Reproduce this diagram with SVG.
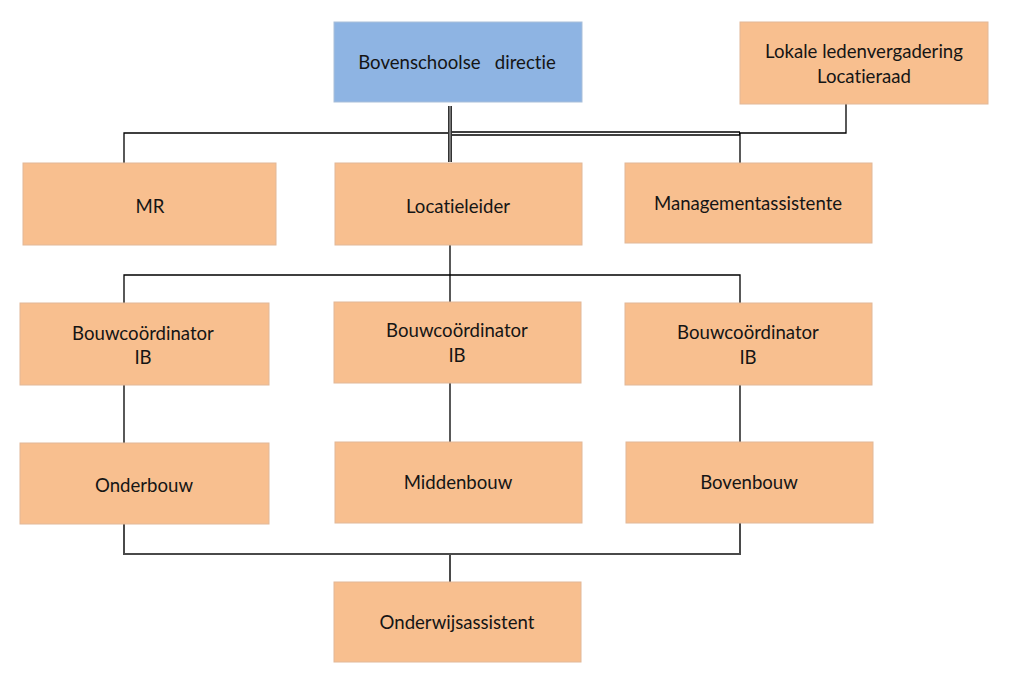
<svg xmlns="http://www.w3.org/2000/svg" width="1023" height="696" viewBox="0 0 1023 696">
<style>
.box{fill:#F8BF8F;stroke:#E2B898;stroke-width:1}
.blue{fill:#8EB4E3;stroke:#A9BFD9;stroke-width:1}
.t{font-family:Lato,"Open Sans","Liberation Sans",sans-serif;font-size:18.6px;fill:#151515;text-anchor:middle;dominant-baseline:central;white-space:pre;font-variant-ligatures:none}
.c{fill:none;stroke:#000;stroke-width:1.3}
.c2{fill:none;stroke:#4a4a4a;stroke-width:2}
</style>
<rect width="1023" height="696" fill="#fff"/>
<g id="connectors">
<path class="c" d="M124,163 V133 H846 V104"/>
<path class="c" d="M740,133 V163"/>
<path fill="none" stroke="#000" stroke-width="4.5" d="M450,133.5 H740"/>
<path fill="none" stroke="#fff" stroke-width="1.6" d="M450,133.5 H739"/>
<path fill="none" stroke="#333" stroke-width="4" d="M450,106 V162"/>
<path fill="none" stroke="#888" stroke-width="1.6" d="M450,106 V162"/>
<path class="c" d="M450,245 V275 M124,303 V275 H740 V303 M450,275 V302"/>
<path class="c" d="M124,385 V443 M450,383 V442 M740,385 V442"/>
<path class="c2" d="M124,524 V554 H740 V523 M450,554 V582"/>
</g>
<g id="bovenschoolse"><rect class="blue" x="334" y="22" width="248" height="80"/><text class="t" x="457" y="62" xml:space="preserve">Bovenschoolse   directie</text></g>
<g id="lokale"><rect class="box" x="740" y="22" width="248" height="82"/><text class="t" x="864" y="51">Lokale ledenvergadering</text><text class="t" x="864" y="76">Locatieraad</text></g>
<g id="mr"><rect class="box" x="23" y="163" width="253" height="82"/><text class="t" x="150" y="206">MR</text></g>
<g id="locatieleider"><rect class="box" x="335" y="163" width="247" height="82"/><text class="t" x="458" y="206">Locatieleider</text></g>
<g id="management"><rect class="box" x="625" y="163" width="247" height="80"/><text class="t" x="748" y="203">Managementassistente</text></g>
<g id="bouw1"><rect class="box" x="20" y="303" width="249" height="82"/><text class="t" x="143" y="333">Bouwcoördinator</text><text class="t" x="143" y="357">IB</text></g>
<g id="bouw2"><rect class="box" x="334" y="302" width="247" height="81"/><text class="t" x="457" y="330">Bouwcoördinator</text><text class="t" x="457" y="355">IB</text></g>
<g id="bouw3"><rect class="box" x="625" y="303" width="247" height="82"/><text class="t" x="748" y="332">Bouwcoördinator</text><text class="t" x="748" y="357">IB</text></g>
<g id="onderbouw"><rect class="box" x="20" y="443" width="249" height="81"/><text class="t" x="144" y="485">Onderbouw</text></g>
<g id="middenbouw"><rect class="box" x="335" y="442" width="247" height="81"/><text class="t" x="458" y="482">Middenbouw</text></g>
<g id="bovenbouw"><rect class="box" x="626" y="442" width="247" height="81"/><text class="t" x="749" y="482">Bovenbouw</text></g>
<g id="onderwijsassistent"><rect class="box" x="334" y="582" width="247" height="80"/><text class="t" x="457" y="622">Onderwijsassistent</text></g>
</svg>
